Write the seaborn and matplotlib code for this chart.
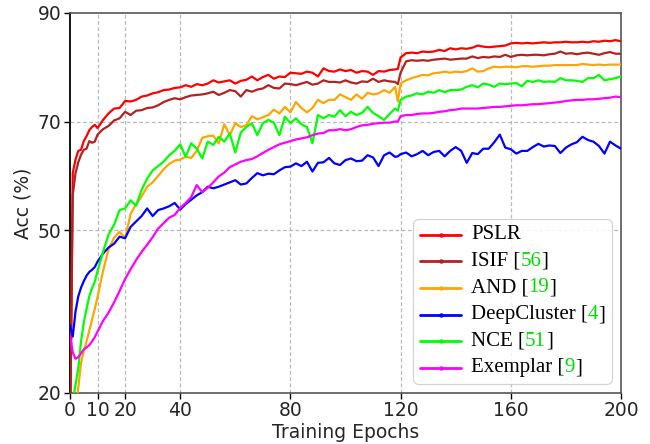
import matplotlib
matplotlib.use("Agg")
import matplotlib.pyplot as plt
from matplotlib.lines import Line2D
from matplotlib.offsetbox import (AnchoredOffsetbox, HPacker, VPacker,
                                  TextArea, DrawingArea)
import seaborn as sns
import pandas as pd

# ---------------- data ----------------
epochs = list(range(0, 11)) + list(range(12, 119, 2)) + [119] + list(range(120, 201, 2))

pslr = [12, 60.5, 63.0, 64.6, 64.8, 66.4, 67.3, 68.4, 69.0, 69.4, 68.8,
        70.3, 71.5, 72.4, 72.5, 73.8, 73.7, 74.0, 74.6, 74.8, 75.2,
        75.4, 75.8, 75.9, 76.2, 76.3, 76.7, 76.4, 76.9, 76.7, 77.0,
        77.6, 77.2, 77.4, 77.6, 77.0, 77.5, 77.7, 78.3, 77.6, 78.2,
        78.6, 77.9, 78.3, 78.2, 79.0, 78.9, 78.8, 79.2, 79.0, 78.3,
        79.8, 79.3, 79.2, 79.6, 79.3, 79.5, 79.0, 79.3, 79.2, 78.6,
        79.3, 79.2, 79.5, 79.6,
        79.7,
        81.8, 82.6, 82.7, 82.6, 82.9, 82.8, 82.9, 83.2, 83.0, 83.5,
        83.3, 83.5, 83.4, 83.6, 84.0, 83.8, 83.7, 83.8, 83.9, 84.0,
        84.4, 84.5, 84.4, 84.5, 84.4, 84.5, 84.6, 84.5, 84.6, 84.6,
        84.7, 84.6, 84.6, 84.7, 84.6, 84.8, 84.7, 84.9, 84.8, 85.0,
        84.8]

isif = [10, 56.5, 60.5, 62.5, 63.9, 64.8, 65.0, 66.4, 66.1, 66.3, 67.6,
        68.6, 69.2, 70.2, 70.6, 71.8, 71.2, 72.0, 72.1, 72.5, 72.6,
        73.0, 73.6, 74.0, 74.3, 74.1, 74.5, 74.8, 74.9, 75.0, 75.2,
        75.5, 74.9, 75.3, 75.8, 75.6, 74.6, 75.8, 75.5, 75.9, 76.1,
        76.7, 76.2, 76.1, 77.0, 76.9, 76.7, 77.0, 77.3, 76.8, 77.0,
        77.6, 77.3, 77.3, 77.2, 77.6, 77.2, 77.0, 77.4, 77.3, 77.9,
        77.3, 77.6, 77.4, 77.3,
        76.9,
        79.0, 81.1, 81.3, 81.2, 81.3, 81.2, 81.4, 81.5, 81.6, 81.4,
        81.5, 81.6, 81.6, 82.0, 81.7, 81.9, 81.8, 82.0, 81.9, 82.3,
        81.9, 82.2, 82.3, 82.2, 82.3, 82.3, 82.2, 82.4, 82.5, 82.9,
        82.5, 82.6, 82.4, 82.6, 82.7, 82.5, 82.3, 82.6, 82.8, 82.5,
        82.5]

and_ = [8, 12, 16.5, 21, 25.5, 27.8, 29.5, 31.5, 33.5, 35.5, 37.7,
        42.5, 46.5, 48.6, 49.7, 48.5, 53.0, 54.8, 56.2, 58.0, 58.8,
        60.0, 61.2, 62.2, 62.8, 63.0, 63.5, 63.3, 64.6, 67.0, 67.3,
        67.4, 66.0, 69.5, 67.5, 69.7, 69.0, 69.3, 71.0, 70.4, 70.8,
        71.2, 72.2, 71.5, 72.7, 71.7, 73.6, 72.5, 71.7, 72.5, 74.0,
        73.4, 74.0, 74.0, 75.0, 74.5, 74.0, 75.0, 74.2, 75.3, 75.0,
        75.2, 75.8, 75.3, 76.4,
        73.7,
        77.0, 77.6, 78.0, 78.3, 78.6, 78.5, 78.9, 79.0, 79.2, 79.0,
        79.2, 79.1, 79.3, 79.8, 79.2, 79.3, 79.8, 80.1, 80.0, 80.1,
        80.1, 80.0, 80.2, 80.2, 80.1, 80.2, 80.3, 80.3, 80.4, 80.4,
        80.4, 80.4, 80.4, 80.6, 80.5, 80.4, 80.5, 80.4, 80.5, 80.5,
        80.5]

deepcluster = [32.5, 30.4, 35.0, 37.8, 39.4, 40.6, 41.6, 42.3, 42.7, 43.2, 44.2,
               45.7, 46.8, 47.5, 48.8, 48.5, 50.6, 51.6, 52.6, 54.0, 52.6,
               53.7, 54.0, 54.4, 55.0, 53.8, 54.8, 55.6, 56.4, 57.0, 58.0,
               57.7, 58.0, 58.4, 58.8, 59.2, 58.4, 58.6, 59.6, 60.5, 60.1,
               60.4, 60.3, 61.0, 61.6, 61.7, 62.3, 61.8, 62.6, 60.8, 62.4,
               62.5, 63.3, 62.3, 62.0, 62.9, 63.2, 62.7, 62.8, 63.8, 63.4,
               61.8, 63.8, 64.3, 63.5,
               63.6,
               64.0, 64.3, 63.6, 64.0, 64.6, 63.8, 64.4, 64.6, 63.6, 64.6,
               65.3, 64.6, 62.4, 64.2, 64.0, 65.0, 65.0, 66.2, 67.6, 65.2,
               64.9, 64.1, 64.6, 64.6, 65.3, 65.9, 65.4, 65.6, 65.5, 64.2,
               65.2, 65.8, 66.2, 67.2, 66.6, 66.3, 65.5, 64.1, 66.3, 65.6,
               65.0]

nce = [10, 18.5, 21.5, 24.5, 29.5, 33.0, 35.5, 37.8, 39.3, 40.5, 42.5,
       46.0, 49.2, 51.0, 53.7, 54.0, 55.5, 54.5, 57.4, 59.5, 61.0,
       61.8, 62.6, 63.8, 64.6, 65.8, 63.5, 66.0, 65.0, 63.2, 66.3,
       65.7, 67.2, 66.3, 67.8, 64.3, 68.0, 69.0, 69.7, 67.5, 69.7,
       70.3, 69.8, 67.5, 70.9, 69.7, 70.6, 69.5, 69.0, 66.0, 71.2,
       70.6, 71.2, 70.9, 72.1, 71.0, 71.8, 71.2, 71.6, 72.7, 71.6,
       71.0, 70.3, 71.4, 72.4,
       72.0,
       74.0, 74.6, 74.8, 75.2, 75.0, 75.5, 75.3, 75.8, 75.4, 75.8,
       75.8, 75.9, 76.4, 76.7, 76.3, 77.0, 76.8, 76.4, 77.0, 76.9,
       77.0, 77.1, 76.5, 77.5, 77.3, 77.6, 77.3, 77.4, 77.3, 78.0,
       77.6, 77.6, 77.5, 77.3, 78.0, 78.0, 78.6, 77.6, 77.8, 78.0,
       78.3]

exemplar = [30.6, 27.5, 26.3, 26.6, 27.3, 28.0, 28.4, 28.8, 29.5, 30.3, 31.3,
            33.3, 34.8, 36.7, 38.8, 41.0, 42.8, 44.5, 46.0, 47.3, 48.7,
            50.3, 51.3, 52.3, 52.8, 54.1, 55.0, 56.1, 58.3, 57.0, 57.8,
            58.8, 59.9, 60.6, 61.6, 62.1, 62.6, 62.9, 63.1, 63.6, 64.2,
            64.8, 65.3, 65.8, 66.1, 66.4, 66.7, 66.9, 67.1, 67.5, 67.8,
            67.9, 68.4, 68.4, 68.6, 68.4, 68.6, 69.0, 69.3, 69.4, 69.6,
            69.7, 69.8, 69.8, 70.0,
            70.0,
            71.0, 71.2, 71.2, 71.4, 71.5, 71.5, 71.6, 71.8, 71.9, 72.1,
            72.2, 72.4, 72.4, 72.4, 72.4, 72.5, 72.6, 72.7, 72.7, 72.8,
            72.9, 73.0, 73.0, 73.1, 73.2, 73.2, 73.3, 73.4, 73.5, 73.6,
            73.8, 73.9, 74.0, 74.0, 74.1, 74.1, 74.2, 74.3, 74.4, 74.6,
            74.5]

methods = ["PSLR", "ISIF", "AND", "DeepCluster", "NCE", "Exemplar"]
refs = ["", "56", "19", "4", "51", "9"]
series = [pslr, isif, and_, deepcluster, nce, exemplar]
colors = ["#FF0000", "#B22222", "#FFA500", "#0000FF", "#00FF00", "#FF00FF"]

x_ticks = [0, 10, 20, 40, 80, 120, 160, 200]
y_ticks = [20, 50, 70, 90]

# ---------------- plot ----------------
sns.set_theme(style="white")
plt.rcParams["font.family"] = ["DejaVu Sans"]

fig = plt.figure(figsize=(6.5, 4.44), dpi=100)
ax = fig.add_axes([70 / 650, 1 - 393 / 444, 551 / 650, 380 / 444])

for name, vals, col in zip(methods, series, colors):
    assert len(vals) == len(epochs), name
    df = pd.DataFrame({"epoch": epochs, "acc": vals})
    sns.lineplot(data=df, x="epoch", y="acc", ax=ax, color=col, linewidth=1.6,
                 estimator=None, zorder=3, legend=False)

ax.set_xlim(0, 200)
ax.set_ylim(20, 90)
ax.set_xticks(x_ticks)
ax.set_yticks(y_ticks)
ax.tick_params(axis="both", labelsize=13.5, length=4, width=1, color="black",
               direction="out", pad=2, bottom=True, left=True)
ax.set_xlabel("Training Epochs", fontsize=13.5, labelpad=2)
ax.set_ylabel("Acc (%)", fontsize=13.5, labelpad=4)

for v in [10, 20, 40, 80, 120, 160]:
    ax.axvline(v, color="#b8b8b8", lw=0.9, ls=(0, (3, 2)), zorder=1)
for v in [50, 70]:
    ax.axhline(v, color="#b8b8b8", lw=0.9, ls=(0, (3, 2)), zorder=1)

for s in ["top", "right", "bottom"]:
    ax.spines[s].set_color("#555555")
    ax.spines[s].set_linewidth(1.2)
ax.spines["left"].set_color("black")
ax.spines["left"].set_linewidth(1.3)

# ---------------- custom legend with coloured citation numbers ----------------
fs = 15
serif = "Liberation Serif"
green = "#00DD00"
rows = []
for m, r, col in zip(methods, refs, colors):
    da = DrawingArea(30, 10, 0, 0)
    da.add_artist(Line2D([0, 15, 30], [5, 5, 5], color=col, lw=2,
                         marker="o", markevery=[1], ms=2.2))
    tp = dict(fontsize=fs, family=serif, color="black")
    if r == "":
        parts = [TextArea(m, textprops=tp)]
    else:
        parts = [TextArea(f"{m} [", textprops=tp),
                 TextArea(r, textprops=dict(tp, color=green)),
                 TextArea("]", textprops=tp)]
    txt = HPacker(children=parts, align="baseline", pad=0, sep=0)
    rows.append(HPacker(children=[da, txt], align="center", pad=0, sep=7))
vp = VPacker(children=rows, align="left", pad=0, sep=5.5)
box = AnchoredOffsetbox(loc="lower right", child=vp, pad=0.3, borderpad=0.45,
                        frameon=True, prop=dict(size=fs))
box.patch.set_boxstyle("round,pad=0,rounding_size=0.25")
box.patch.set_edgecolor("#cccccc")
box.patch.set_linewidth(0.9)
box.patch.set_facecolor("white")
box.patch.set_alpha(0.85)
box.set_zorder(5)
ax.add_artist(box)

fig.savefig("out.png", dpi=100)
